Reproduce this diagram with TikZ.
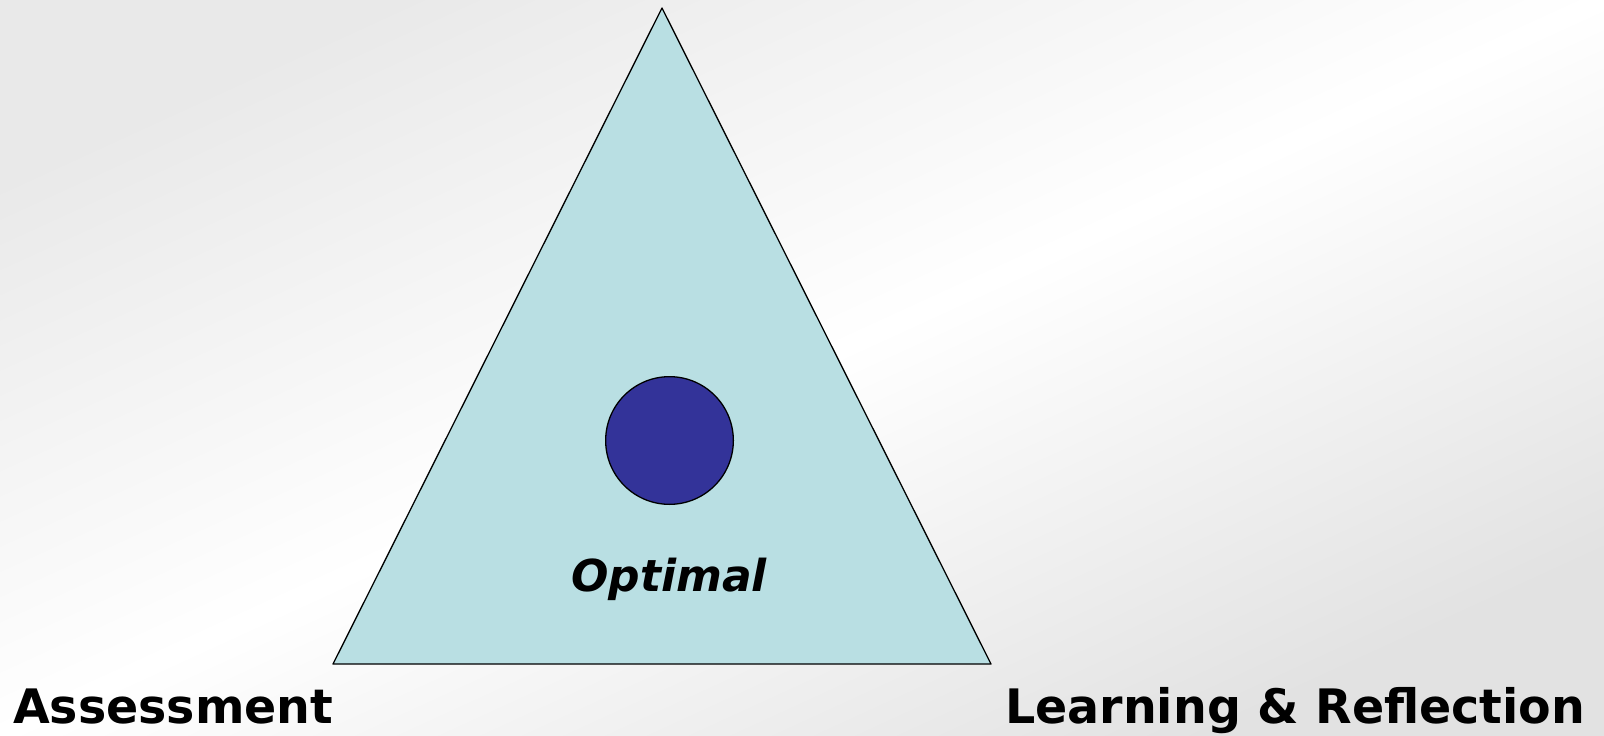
\documentclass[tikz,border=0pt]{standalone}
\usepackage{fontspec}
\setmainfont{DejaVu Sans}
\usepackage{xcolor}
\usetikzlibrary{positioning,calc}
\definecolor{paleteal}{HTML}{B9DFE3}
\definecolor{indigo}{HTML}{333399}
\definecolor{ink}{HTML}{000000}
\definecolor{mist}{HTML}{E9E9E9}
\definecolor{smoke}{HTML}{E2E2E2}
\tikzset{
    every picture/.style={line cap=round,line join=round},
    wedge/.style={draw=ink,fill=paleteal,line width=1.3pt},
    dot/.style={draw=ink,circle,fill=indigo,line width=1.3pt,
      minimum size=127.7pt,inner sep=0pt},
    goal/.style={inner sep=0pt,text=ink,
      font=\fontsize{44}{48}\selectfont\bfseries\itshape},
    corner/.style={inner sep=0pt,text=ink,
      font=\fontsize{47.5}{50}\selectfont\bfseries}
}

\begin{document}
\begin{tikzpicture}[x=1pt,y=-1pt]
  % soft grey backdrop, lighter along the diagonal
  \shade[top color=mist,bottom color=smoke,middle color=white,
    shading angle=24.6] (0,0) rectangle (1604,736);
  \useasboundingbox (0,0) rectangle (1604,736);
  \coordinate (apex) at (662,8);
  \coordinate (baseL) at (333,664);
  \coordinate (baseR) at (991,664);
  \draw[wedge] (apex) -- (baseR) -- (baseL) -- cycle;
  \node[dot] (target) at (669.5,440.5) {};
  \node[goal,anchor=base] (optimal) at (669,591) {Optimal};
  \node[corner,anchor=base west] (assess) at (13,723) {Assessment};
  \node[corner,anchor=base west] (learn) at (1005,723) {Learning \& Reflection};
\end{tikzpicture}
\end{document}
